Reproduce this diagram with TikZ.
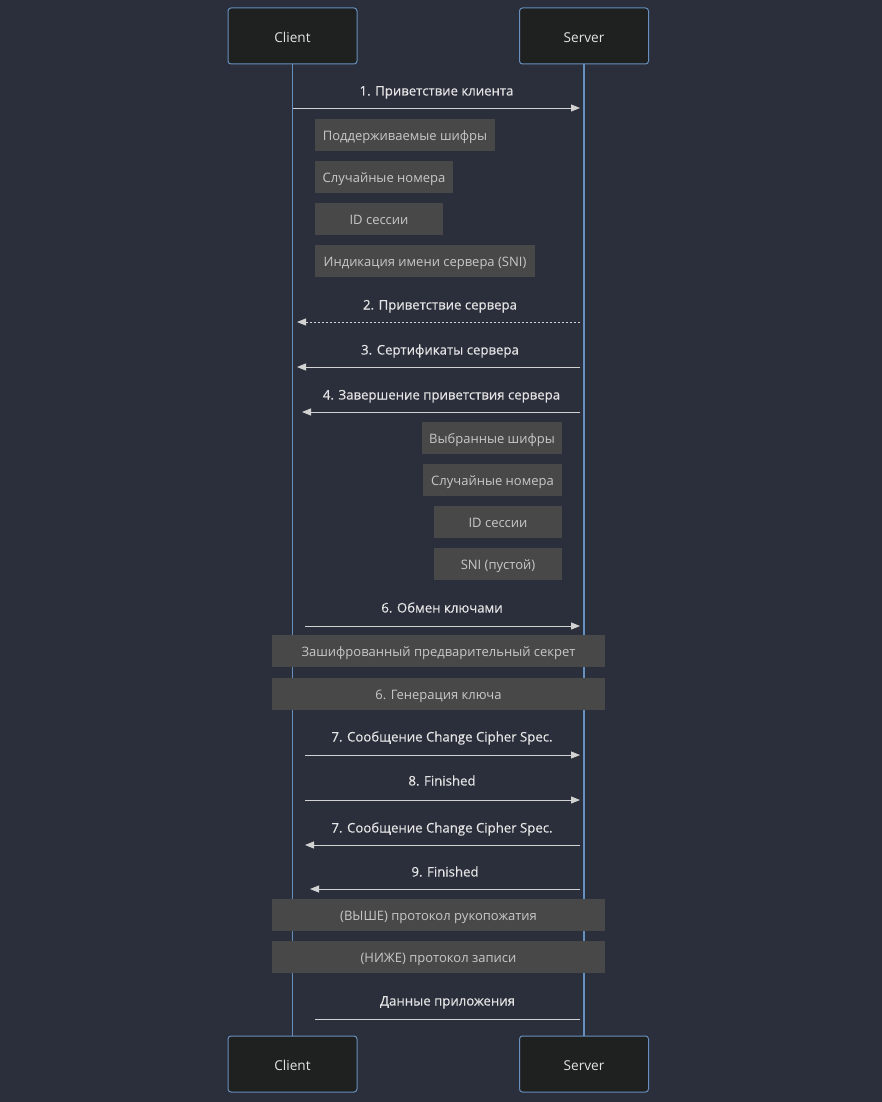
\documentclass[tikz,border=0pt]{standalone}
\usepackage{fontspec}
\setmainfont{Open Sans}
\newfontfamily\labelfont[FakeBold=0.4]{Open Sans}
\usetikzlibrary{arrows.meta}
\definecolor{bg_col}{RGB}{42,47,59}
\definecolor{actor_fill}{RGB}{31,32,32}
\definecolor{actor_line}{RGB}{104,144,190}
\definecolor{note_fill}{RGB}{72,72,72}
\definecolor{note_text}{RGB}{200,200,200}
\definecolor{msg_text}{RGB}{228,228,228}
\definecolor{msg_line}{RGB}{210,210,210}
\begin{document}
\begin{tikzpicture}[x=1pt, y=-1pt,
actor_style/.style={draw=actor_line,fill=actor_fill,rounded corners=3pt,line width=1pt,minimum width=129pt,minimum height=56pt},
actor_text/.style={text=msg_text,font=\fontsize{13.6}{15}\selectfont,inner sep=0pt,text height=9.5pt,text depth=3.5pt,yshift=-3.5pt},
life_style/.style={draw=actor_line,line width=1.3pt},
note_style/.style={fill=note_fill,minimum height=32pt,inner sep=0pt},
note_text/.style={text=note_text,font=\fontsize{13}{15}\selectfont,inner sep=0pt,text height=9.5pt,text depth=3.5pt,yshift=-2.5pt},
label_style/.style={text=msg_text,font=\labelfont\fontsize{13.2}{15}\selectfont,inner sep=0pt,text height=9.5pt,text depth=3.5pt,yshift=-2.5pt},
msg_style/.style={draw=msg_line,line width=0.9pt,-{Triangle[length=9pt,width=7pt]}},
msg_dotted/.style={msg_style,dash pattern=on 2pt off 2pt},
msg_plain/.style={draw=msg_line,line width=0.9pt}]
\fill[bg_col] (0,0) rectangle (882,1102);
\useasboundingbox (0,0) rectangle (882,1102);
% actors
\node[actor_style] (client_top) at (292.5,36) {};
\node[actor_style] (server_top) at (584,36) {};
\node[actor_style] (client_bot) at (292.5,1064) {};
\node[actor_style] (server_bot) at (584,1064) {};
\node[actor_text] at (client_top) {Client};
\node[actor_text] at (server_top) {Server};
\node[actor_text] at (client_bot) {Client};
\node[actor_text] at (server_bot) {Server};
\draw[life_style] (client_top.south) -- (client_bot.north);
\draw[life_style] (server_top.south) -- (server_bot.north);
% 1. client hello
\coordinate (m1_s) at (293,108);
\coordinate (m1_e) at (580,108);
\draw[msg_style] (m1_s) -- (m1_e);
\node[label_style] (m1_l) at (436.5,90) {1. Приветствие клиента};
\node[note_style,minimum width=180pt] (n1) at (405,135) {};
\node[note_style,minimum width=138pt] (n2) at (384,177) {};
\node[note_style,minimum width=128pt] (n3) at (379,219) {};
\node[note_style,minimum width=220pt] (n4) at (425,261) {};
\node[note_text] at (n1) {Поддерживаемые шифры};
\node[note_text] at (n2) {Случайные номера};
\node[note_text] at (n3) {ID сессии};
\node[note_text] at (n4) {Индикация имени сервера (SNI)};
% 2. server hello
\coordinate (m2_s) at (580,322);
\coordinate (m2_e) at (297,322);
\draw[msg_dotted] (m2_s) -- (m2_e);
\node[label_style] (m2_l) at (440,304) {2. Приветствие сервера};
% 3. certificates
\coordinate (m3_s) at (580,367);
\coordinate (m3_e) at (297,367);
\draw[msg_style] (m3_s) -- (m3_e);
\node[label_style] (m3_l) at (440,349) {3. Сертификаты сервера};
% 4. server hello done
\coordinate (m4_s) at (580,412);
\coordinate (m4_e) at (302,412);
\draw[msg_style] (m4_s) -- (m4_e);
\node[label_style] (m4_l) at (441.5,394) {4. Завершение приветствия сервера};
\node[note_style,minimum width=140pt] (n5) at (492,438) {};
\node[note_style,minimum width=139pt] (n6) at (492.5,480) {};
\node[note_style,minimum width=128pt] (n7) at (498,522) {};
\node[note_style,minimum width=128pt] (n8) at (498,564) {};
\node[note_text] at (n5) {Выбранные шифры};
\node[note_text] at (n6) {Случайные номера};
\node[note_text] at (n7) {ID сессии};
\node[note_text] at (n8) {SNI (пустой)};
% 6. key exchange
\coordinate (m5_s) at (305,626);
\coordinate (m5_e) at (580,626);
\draw[msg_style] (m5_s) -- (m5_e);
\node[label_style] (m5_l) at (442,607) {6. Обмен ключами};
\node[note_style,minimum width=333pt] (n9) at (438.5,651) {};
\node[note_style,minimum width=333pt] (n10) at (438.5,694) {};
\node[note_text] at (n9) {Зашифрованный предварительный секрет};
\node[note_text] at (n10) {6. Генерация ключа};
% 7. change cipher spec
\coordinate (m6_s) at (305,755);
\coordinate (m6_e) at (580,755);
\draw[msg_style] (m6_s) -- (m6_e);
\node[label_style] (m6_l) at (442,736) {7. Сообщение Change Cipher Spec.};
% 8. finished
\coordinate (m7_s) at (305,800);
\coordinate (m7_e) at (580,800);
\draw[msg_style] (m7_s) -- (m7_e);
\node[label_style] (m7_l) at (442,780) {8. Finished};
% 7. change cipher spec (server)
\coordinate (m8_s) at (580,845);
\coordinate (m8_e) at (305,845);
\draw[msg_style] (m8_s) -- (m8_e);
\node[label_style] (m8_l) at (442,827) {7. Сообщение Change Cipher Spec.};
% 9. finished
\coordinate (m9_s) at (580,889);
\coordinate (m9_e) at (310,889);
\draw[msg_style] (m9_s) -- (m9_e);
\node[label_style] (m9_l) at (445,871) {9. Finished};
\node[note_style,minimum width=333pt] (n11) at (438.5,915) {};
\node[note_style,minimum width=333pt] (n12) at (438.5,957) {};
\node[note_text] at (n11) {(ВЫШЕ) протокол рукопожатия};
\node[note_text] at (n12) {(НИЖЕ) протокол записи};
% application data
\coordinate (m10_s) at (580,1019);
\coordinate (m10_e) at (315,1019);
\draw[msg_plain] (m10_s) -- (m10_e);
\node[label_style] (m10_l) at (447.5,1000) {Данные приложения};
\end{tikzpicture}
\end{document}
